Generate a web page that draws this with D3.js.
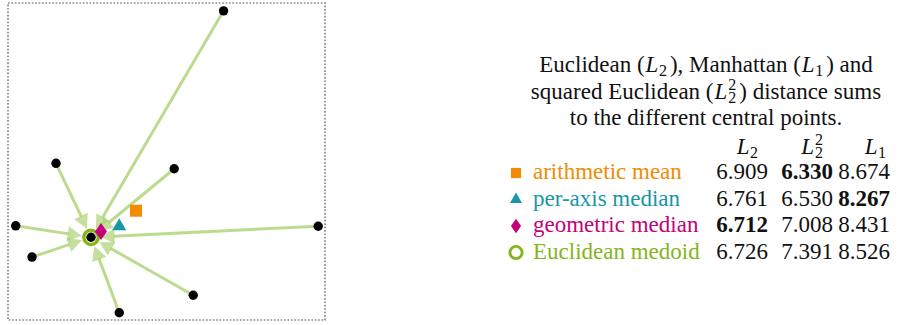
<!DOCTYPE html>
<meta charset="utf-8">
<head>
<style>
body { margin: 0; background: #fff; }
svg text { font-family: "Liberation Serif", "Times New Roman", Times, "DejaVu Serif", serif; }
.frame { fill: none; stroke: #8a8a8a; stroke-width: 1.7; stroke-dasharray: 1.7,1.7; }
.link { stroke: #a6cf6a; stroke-width: 3; stroke-opacity: 0.75; fill: none; }
.head { fill: #a6cf6a; fill-opacity: 0.65; }
.pt { fill: #000; }
</style>
</head>
<body>
<div id="chart"></div>
<script src="https://d3js.org/d3.v7.min.js"></script>
<script>

// data points (plot units)
var pointX = [1.428, 0.318, 1.101, 0.051, 2.055, 0.159, 1.227, 0.737, 0.550];
var pointY = [2.048, 1.038, 1.002, 0.624, 0.621, 0.417, 0.164, 0.048, 0.548];

// central points
var centerNames = ["arithmetic mean", "per-axis median", "geometric median", "Euclidean medoid"];
var centerX = [0.848, 0.737, 0.616, 0.550];
var centerY = [0.724, 0.621, 0.586, 0.548];
var centerColors = ["#f28b00", "#1897a6", "#c4007a", "#85b51b"];

// distance sums
var sumL2 = [6.909, 6.761, 6.712, 6.726];
var sumL2sq = [6.330, 6.530, 7.008, 7.391];
var sumL1 = [8.674, 8.267, 8.431, 8.526];

var width = 904, height = 325, fs = 23;
var serif = "'Liberation Serif', 'Times New Roman', Times, serif";

var x = d3.scaleLinear().domain([0, 2.1]).range([8, 325]);
var y = d3.scaleLinear().domain([0, 2.1]).range([320, 3]);

var svg = d3.select("#chart").append("svg")
    .attr("width", width)
    .attr("height", height)
    .attr("font-family", serif);

svg.append("rect")
    .attr("class", "frame")
    .attr("x", x(0)).attr("y", y(2.1))
    .attr("width", x(2.1) - x(0))
    .attr("height", y(0) - y(2.1));

// arrows from every point to the medoid
var mx = x(centerX[3]), my = y(centerY[3]);
var tipGap = 9.5, headLen = 14, headHalf = 7.5;

var links = pointX.map(function(d, i) {
  var px = x(d), py = y(pointY[i]);
  var dx = mx - px, dy = my - py, len = Math.sqrt(dx * dx + dy * dy);
  return {px: px, py: py, ux: dx / len, uy: dy / len, len: len};
}).filter(function(d) { return d.len > 1; });

svg.selectAll(".link")
    .data(links)
  .enter().append("line")
    .attr("class", "link")
    .attr("x1", function(d) { return d.px; })
    .attr("y1", function(d) { return d.py; })
    .attr("x2", function(d) { return mx - d.ux * (tipGap + headLen - 1); })
    .attr("y2", function(d) { return my - d.uy * (tipGap + headLen - 1); });

svg.selectAll(".head")
    .data(links)
  .enter().append("path")
    .attr("class", "head")
    .attr("d", function(d) {
      var tx = mx - d.ux * tipGap, ty = my - d.uy * tipGap;
      var bx = tx - d.ux * headLen, by = ty - d.uy * headLen;
      var p = d3.path();
      p.moveTo(tx, ty);
      p.lineTo(bx - d.uy * headHalf, by + d.ux * headHalf);
      p.lineTo(bx + d.uy * headHalf, by - d.ux * headHalf);
      p.closePath();
      return p.toString();
    });

svg.selectAll(".pt")
    .data(pointX)
  .enter().append("circle")
    .attr("class", "pt")
    .attr("cx", function(d) { return x(d); })
    .attr("cy", function(d, i) { return y(pointY[i]); })
    .attr("r", 4.7);

function marker(g, i, s) {
  var c = centerColors[i];
  if (i === 0) {
    g.append("path").attr("d", d3.symbol(d3.symbolSquare, 144 * s * s)()).attr("fill", c);
  } else if (i === 1) {
    g.append("path").attr("d", d3.symbol(d3.symbolTriangle, 85 * s * s)()).attr("fill", c);
  } else if (i === 2) {
    var p = d3.path();
    p.moveTo(0, -8.5 * s); p.lineTo(6 * s, 0); p.lineTo(0, 8.5 * s); p.lineTo(-6 * s, 0); p.closePath();
    g.append("path").attr("d", p.toString()).attr("fill", c);
  } else {
    g.append("circle").attr("r", 7.2 * s).attr("fill", "none")
        .attr("stroke", c).attr("stroke-width", 3.4 * s);
  }
}

[0, 1, 3, 2].forEach(function(i) {
  var g = svg.append("g")
      .attr("transform", "translate(" + x(centerX[i]) + "," + y(centerY[i]) + ")");
  marker(g, i, 1);
});

// caption; math L with sub/superscript, a bit wider like TeX math
function mathL(t, sub, sup) {
  t.append("tspan").attr("font-style", "italic").attr("dx", 1).text("L");
  if (sup) {
    t.append("tspan").attr("font-size", 16).attr("dx", 1).attr("dy", -9).text(sup);
    t.append("tspan").attr("font-size", 16).attr("dx", -8).attr("dy", 13).text(sub);
    return -4;
  }
  t.append("tspan").attr("font-size", 16).attr("dx", 0.5).attr("dy", 4).text(sub);
  return -4;
}

var cx = 706;
var cap = svg.append("g").attr("font-size", fs).attr("text-anchor", "middle").attr("fill", "#111");

var t1 = cap.append("text").attr("x", cx).attr("y", 72);
t1.append("tspan").text("Euclidean (");
var r = mathL(t1, "2");
t1.append("tspan").attr("dx", 3).attr("dy", r).text("), Manhattan (");
r = mathL(t1, "1");
t1.append("tspan").attr("dx", 3).attr("dy", r).text(") and");

var t2 = cap.append("text").attr("x", cx).attr("y", 99);
t2.append("tspan").text("squared Euclidean (");
r = mathL(t2, "2", "2");
t2.append("tspan").attr("dx", 3).attr("dy", r).text(") distance sums");

cap.append("text").attr("x", cx).attr("y", 125).text("to the different central points.");

// table
var colRight = [768, 833, 890];
var colHead = [["2"], ["2", "2"], ["1"]];
var cols = [sumL2, sumL2sq, sumL1];

colHead.forEach(function(h, j) {
  var t = svg.append("text")
      .attr("x", colRight[j] - (j === 2 ? 5 : 11))
      .attr("y", 154)
      .attr("font-size", fs)
      .attr("text-anchor", "end")
      .attr("fill", "#111");
  mathL(t, h[0], h[1]);
});

var rowY = [179, 205.5, 232, 258.5];

centerNames.forEach(function(name, i) {
  var g = svg.append("g").attr("transform", "translate(516," + (rowY[i] - 6) + ")");
  marker(g, i, 0.85);

  svg.append("text")
      .attr("x", 533).attr("y", rowY[i])
      .attr("font-size", fs)
      .attr("fill", centerColors[i])
      .text(name);

  cols.forEach(function(col, j) {
    var best = d3.min(col);
    svg.append("text")
        .attr("x", colRight[j]).attr("y", rowY[i])
        .attr("font-size", fs)
        .attr("text-anchor", "end")
        .attr("font-weight", col[i] === best ? "bold" : "normal")
        .attr("fill", "#111")
        .text(col[i].toFixed(3));
  });
});

</script>
</body>
